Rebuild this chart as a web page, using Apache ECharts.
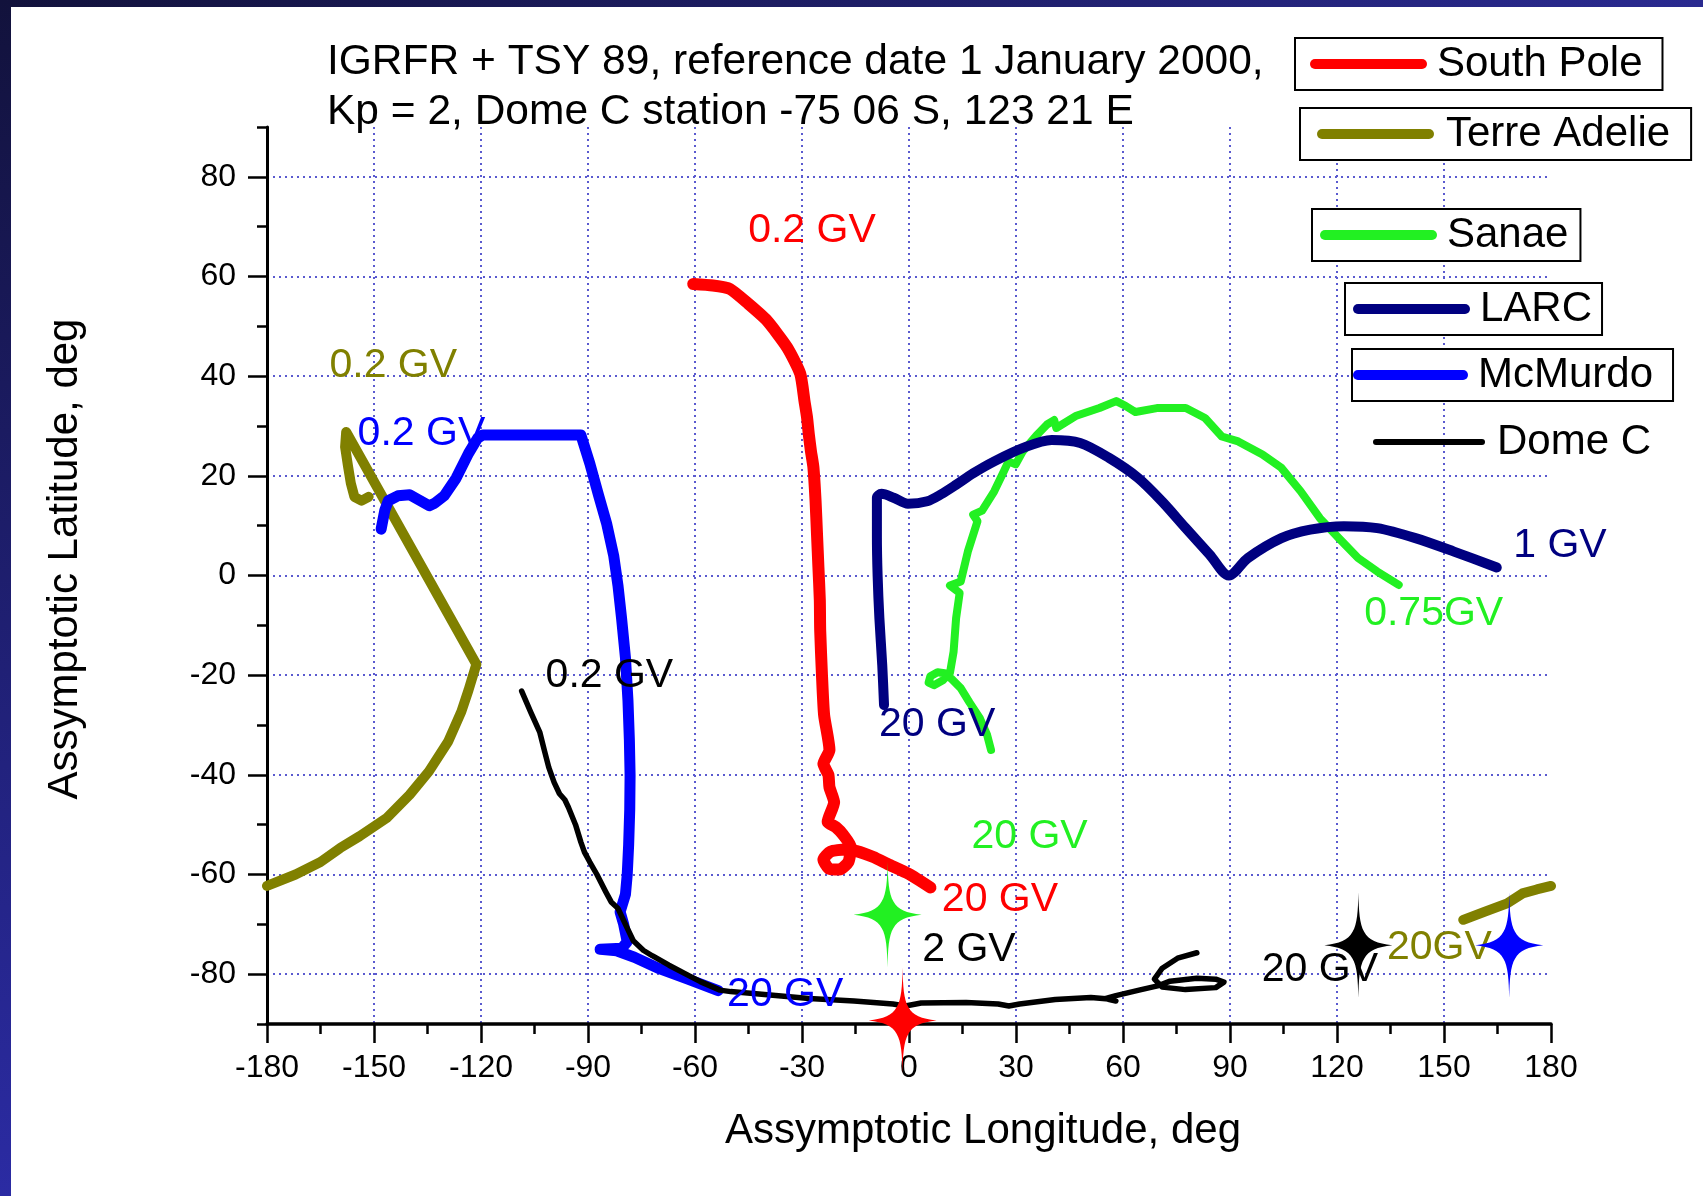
<!DOCTYPE html>
<html>
<head>
<meta charset="utf-8">
<script src="https://cdn.jsdelivr.net/npm/echarts@6/dist/echarts.min.js"></script>
<style>
  html, body { margin: 0; padding: 0; background: #fff; }
  #chart { width: 1703px; height: 1196px; }
</style>
</head>
<body>
<div id="chart"></div>
<script>
const FONT = '"Liberation Sans", Arial, Helvetica, sans-serif';

// Asymptotic directions [longitude, latitude] in degrees, traced from 0.2 GV to 20 GV
const southPole = [
  [-60.5, 58.5], [-55, 58.2], [-50.2, 57.5], [-45, 54.5], [-39.9, 51.2], [-34.2, 45.8],
  [-30.5, 40.5], [-29.3, 35], [-28.6, 31.8], [-28.1, 28.4], [-27.5, 25], [-26.8, 21.7],
  [-26.2, 15], [-25.8, 8.4], [-25.4, 1.7], [-25, -5], [-24.9, -11], [-24.4, -20],
  [-23.8, -28], [-22.3, -35], [-24, -37.8], [-22.6, -40], [-22.3, -42.5], [-21, -45.5],
  [-22.8, -49.4], [-20.5, -50.5], [-18.5, -52], [-16.3, -54.5], [-17, -57.5], [-19.5, -59],
  [-22.5, -58.8], [-24, -57], [-22, -55.4], [-18, -55], [-14.7, -55.3], [-10, -56.5],
  [-6, -57.9], [0, -59.9], [6, -62.6]
];

const terreAdelieWest = [
  [-151.5, 15.8], [-153.5, 15], [-155.5, 15.8], [-156.5, 18.5], [-157.3, 22], [-158.1, 25.8],
  [-157.8, 28.8], [-121.3, -17.8], [-123.5, -23], [-125.5, -27.3], [-129.2, -33.3],
  [-134.6, -39.3], [-140, -44], [-146.5, -48.7], [-154, -52.3], [-159.5, -54.7],
  [-165, -57.5], [-172, -60], [-180, -62.3]
];
const terreAdelieEast = [
  [155.4, -69.1], [161.3, -67.5], [167.7, -65.8], [172, -63.8], [176, -63], [180, -62.3]
];

const sanae = [
  [23, -35], [21.9, -32], [19.9, -28.7], [17, -25.5], [14.5, -22.6], [12, -20.8], [10, -19.6],
  [8, -19.4], [6, -20.2], [5.5, -21.5], [7, -22], [9.5, -21], [11.5, -19.5], [12.5, -15.3],
  [13.2, -8.6], [14.2, -3.5], [11.5, -2], [14.5, -1.2], [16.5, 4.8], [19.2, 10.9], [18, 12.2],
  [20.5, 13], [23.9, 16.9], [26.6, 20.9], [27.9, 22.9], [29.9, 22.3], [31.9, 24.9], [36, 28.3],
  [38.7, 30.3], [40.7, 31.2], [41.3, 29.6], [46.7, 32], [53.4, 33.6], [58.1, 35], [60.8, 34],
  [63.5, 32.8], [69.5, 33.6], [77.6, 33.6], [83, 31.6], [87.7, 27.9], [92.3, 26.9], [99.1, 24.3],
  [104.4, 21.6], [109.8, 16.9], [115.2, 11.5], [120.5, 7.5], [125.9, 3.5], [131.3, 0.8], [137.3, -1.9]
];

const larc = [
  [-7, -26], [-7.5, -18], [-8.3, -8.6], [-8.8, 0], [-9, 8], [-9, 15.6], [-7.7, 16.4],
  [-4.3, 15.6], [-0.3, 14.4], [5.1, 14.9], [9, 16.3], [13.2, 18.2], [18, 20.5], [23.9, 22.9],
  [32, 25.6], [40, 27.2], [48, 26.6], [56.1, 23.6], [64.2, 19.6], [70.9, 14.9], [77.6, 9.5],
  [84.3, 4.2], [89.7, 0], [95, 3.5], [104.4, 7.5], [112.5, 9.2], [121.9, 9.9], [131.3, 9.5],
  [142, 7.5], [152.8, 4.8], [164.8, 1.6]
];

const mcMurdo = [
  [-148, 9.3], [-147, 13], [-146, 15], [-143.3, 16], [-140, 16.2], [-137, 15], [-134.5, 14],
  [-133, 14.5], [-130.3, 16], [-127, 19.5], [-123.5, 24.5], [-121, 27.5], [-119.5, 28.2],
  [-92, 28.2], [-89.5, 22.5], [-87, 16], [-84.8, 10.5], [-82.8, 4], [-81.6, -2], [-80.6, -8.5],
  [-79.5, -16.5], [-78.8, -25], [-78.4, -33], [-78.2, -40], [-78.3, -47], [-78.6, -54],
  [-79, -60], [-79.5, -64], [-81, -67.5], [-80, -70], [-79, -73.5], [-80.5, -74.8],
  [-86.6, -75], [-82, -75.3], [-77, -76.6], [-70, -78.9], [-62, -81], [-53.5, -83.3]
];

const domeC = [
  [-108.6, -23.2], [-106, -27.5], [-103.5, -31.5], [-102.2, -35.2], [-101, -38.5],
  [-99.5, -41.5], [-98, -43.8], [-96.5, -45], [-95.5, -46.5], [-93.5, -50], [-92, -53.5],
  [-91, -55.5], [-89.5, -57.5], [-87.5, -60], [-85, -63.5], [-83.5, -65.5], [-81.6, -66.8],
  [-79.5, -70], [-77.3, -73.3], [-74.5, -75.2], [-72, -76.3], [-67.3, -78.2], [-62, -80.2],
  [-58.5, -81.5], [-53, -83.2], [-50, -83.5], [-40.5, -84.1], [-28, -84.9], [-15.4, -85.4],
  [-4.5, -86], [-1, -86.4], [3.4, -85.8], [16, -85.7], [25, -86], [28, -86.4], [31, -86],
  [41, -85.1], [51, -84.7], [56, -85], [58, -85.4], [55, -84.9], [58, -84.3], [64.5, -83.2],
  [70, -82.3], [73.2, -81.4], [80.7, -80.8], [86, -81], [88.3, -81.6], [86, -82.7],
  [77.5, -83.1], [71, -82.6], [68.8, -81], [71, -78.8], [75.3, -76.8], [80.7, -75.7]
];

// Station positions [longitude, latitude]
const stationNames = ['South Pole', 'Sanae', 'Dome C', 'McMurdo'];
const stationPositions = [[-1.8, -89.3], [-6, -68.1], [126, -74.2], [168.3, -74.2]];

// Rigidity annotations [text, longitude, latitude]
const southPoleLabels = [['0.2 GV', -27.2, 69.2], ['20 GV', 25.5, -65]];
const terreAdelieLabels = [['0.2 GV', -144.6, 42.2], ['20GV', 148.7, -74.6]];
const sanaeLabels = [['0.75GV', 147.1, -7.7], ['20 GV', 33.8, -52.4]];
const larcLabels = [['1 GV', 182.5, 6], ['20 GV', 7.9, -30]];
const mcMurdoLabels = [['0.2 GV', -136.7, 28.5], ['20 GV', -34.7, -84.2]];
const domeCLabels = [['0.2 GV', -84, -20.1], ['2 GV', 16.8, -75], ['20 GV', 115.2, -79.2]];

const yMajorTicks = [-80, -60, -40, -20, 0, 20, 40, 60, 80];

const COLORS = {
  'South Pole': '#ff0000',
  'Terre Adelie': '#808000',
  'Sanae': '#22f022',
  'LARC': '#000080',
  'McMurdo': '#0000ff',
  'Dome C': '#000000'
};
const STAR = 'path://M50,0 C51,36 55,47 100,50 C55,53 51,64 50,100 C49,64 45,53 0,50 C45,47 49,36 50,0 Z';
const CAPSULE = 'path://M5,0H112A5,5,0,0,1,112,10H5A5,5,0,0,1,5,0Z';
const THIN_CAPSULE = 'path://M3,0H109A3,3,0,0,1,109,6H3A3,3,0,0,1,3,0Z';

function trajectory(name, data, width, smooth) {
  const color = COLORS[name];
  return {
    type: 'line', name: name, data: data,
    symbol: 'none', showSymbol: false, clip: false, z: 2,
    smooth: smooth || false,
    itemStyle: { color: color },
    lineStyle: { color: color, width: width, cap: 'round', join: 'round', opacity: 1 },
    emphasis: { disabled: true }
  };
}

function annotations(list, color) {
  return {
    type: 'scatter',
    data: list.map(function (d) { return { value: [d[1], d[2]], label: { formatter: d[0] } }; }),
    symbol: 'circle', symbolSize: 1, clip: false, z: 3, silent: true,
    itemStyle: { color: 'rgba(0,0,0,0)', opacity: 1 },
    label: { show: true, position: 'inside', color: color, opacity: 1, fontSize: 41, fontFamily: FONT },
    emphasis: { disabled: true }
  };
}

function legendBox(name, left, top, padding, extra) {
  return Object.assign({
    data: [name], left: left, top: top, padding: padding,
    orient: 'horizontal', selectedMode: false, itemGap: 0,
    icon: CAPSULE, itemWidth: 117, itemHeight: 10, symbolKeepAspect: false,
    borderColor: '#000', borderWidth: 2, backgroundColor: '#fff',
    textStyle: { fontSize: 42, fontFamily: FONT, color: '#000', padding: [0, 0, 0, 5] }
  }, extra || {});
}

const chart = echarts.init(document.getElementById('chart'), null, { renderer: 'canvas' });

const gridLine = { color: '#5a5acf', width: 2, type: [2, 4] };
const axisBlack = { color: '#000', width: 2.5 };

chart.setOption({
  animation: false,
  backgroundColor: '#fff',
  title: {
    text: 'IGRFR + TSY 89, reference date 1 January 2000,\nKp = 2, Dome C station -75 06 S, 123 21 E',
    left: 327, top: 37, padding: 0,
    textStyle: { fontSize: 42.5, fontWeight: 'normal', color: '#000', fontFamily: FONT, lineHeight: 50 }
  },
  legend: [
    legendBox('South Pole', 1295, 38, [5, 20, 5, 15]),
    legendBox('Terre Adelie', 1300, 108, [5, 21, 5, 17], { textStyle: { fontSize: 42, fontFamily: FONT, color: '#000', padding: [0, 0, 0, 7] } }),
    legendBox('Sanae', 1312, 209, [5, 12, 5, 8]),
    legendBox('LARC', 1345, 283, [5, 10, 5, 8]),
    legendBox('McMurdo', 1352, 349, [5, 20, 5, 1], { itemWidth: 115 }),
    legendBox('Dome C', 1373, 416, [5, 5, 5, 0], {
      icon: THIN_CAPSULE, itemWidth: 112, itemHeight: 6, borderWidth: 0, backgroundColor: 'transparent',
      textStyle: { fontSize: 42, fontFamily: FONT, color: '#000', padding: [0, 0, 0, 7] }
    })
  ],
  grid: { left: 267, right: 152, top: 127, bottom: 172, containLabel: false, outerBoundsMode: 'none' },
  xAxis: {
    type: 'value', min: -180, max: 180, interval: 30,
    name: 'Assymptotic Longitude, deg', nameLocation: 'middle', nameGap: 86,
    nameTextStyle: { fontFamily: FONT, fontSize: 42, color: '#000', padding: [0, 0, 0, 148] },
    axisLine: { show: true, onZero: false, lineStyle: { color: '#000', width: 3.5 } },
    axisTick: { show: true, inside: false, length: 19, lineStyle: axisBlack },
    minorTick: { show: true, splitNumber: 2, length: 10, lineStyle: axisBlack },
    axisLabel: { show: true, fontFamily: FONT, fontSize: 32, color: '#000', margin: 28, showMinLabel: true, showMaxLabel: true },
    splitLine: { show: true, showMinLine: false, showMaxLine: false, lineStyle: gridLine }
  },
  yAxis: [
    {
      type: 'value', min: -90, max: 90, position: 'left',
      name: 'Assymptotic Latitude, deg', nameLocation: 'middle', nameGap: 181, nameRotate: 90,
      nameTextStyle: { fontFamily: FONT, fontSize: 42, color: '#000', padding: [0, 0, 0, 33] },
      axisLine: { show: true, onZero: false, lineStyle: { color: '#000', width: 3 } },
      axisTick: { show: true, inside: false, length: 19, customValues: yMajorTicks, lineStyle: axisBlack },
      axisLabel: { show: true, customValues: yMajorTicks, fontFamily: FONT, fontSize: 32, color: '#000', margin: 31 },
      splitLine: { show: true, lineStyle: gridLine }
    },
    {
      // minor ticks every 10 degrees along the same left edge
      type: 'value', min: -90, max: 90, interval: 10, position: 'left',
      axisLine: { show: false, onZero: false },
      axisTick: { show: true, inside: false, length: 10, lineStyle: axisBlack },
      axisLabel: { show: false },
      splitLine: { show: false }
    }
  ],
  series: [
    trajectory('Terre Adelie', terreAdelieWest, 10),
    trajectory('Terre Adelie', terreAdelieEast, 10),
    trajectory('Sanae', sanae, 8),
    trajectory('LARC', larc, 10, 0.3),
    trajectory('South Pole', southPole, 12, 0.2),
    trajectory('McMurdo', mcMurdo, 11),
    trajectory('Dome C', domeC, 5.5),
    annotations(southPoleLabels, COLORS['South Pole']),
    annotations(terreAdelieLabels, COLORS['Terre Adelie']),
    annotations(sanaeLabels, COLORS['Sanae']),
    annotations(larcLabels, COLORS['LARC']),
    annotations(mcMurdoLabels, COLORS['McMurdo']),
    annotations(domeCLabels, COLORS['Dome C']),
    {
      type: 'scatter', name: 'stations', clip: false, z: 5, silent: true,
      symbol: STAR, symbolSize: [68, 106], symbolKeepAspect: false,
      itemStyle: { opacity: 1 },
      emphasis: { disabled: true },
      data: stationPositions.map(function (p, i) {
        return { value: p, itemStyle: { color: COLORS[stationNames[i]], opacity: 1 } };
      })
    }
  ],
  graphic: [
    {
      type: 'rect', left: 0, top: 0, z: 100, silent: true,
      shape: { width: 1703, height: 7 },
      style: { fill: new echarts.graphic.LinearGradient(0, 0, 1, 0, [
        { offset: 0, color: '#12123c' }, { offset: 1, color: '#2a2a90' }]) }
    },
    {
      type: 'rect', left: 0, top: 0, z: 100, silent: true,
      shape: { width: 11, height: 1196 },
      style: { fill: new echarts.graphic.LinearGradient(0, 0, 0, 1, [
        { offset: 0, color: '#12123c' }, { offset: 1, color: '#2b2ba3' }]) }
    }
  ]
});
</script>
</body>
</html>
